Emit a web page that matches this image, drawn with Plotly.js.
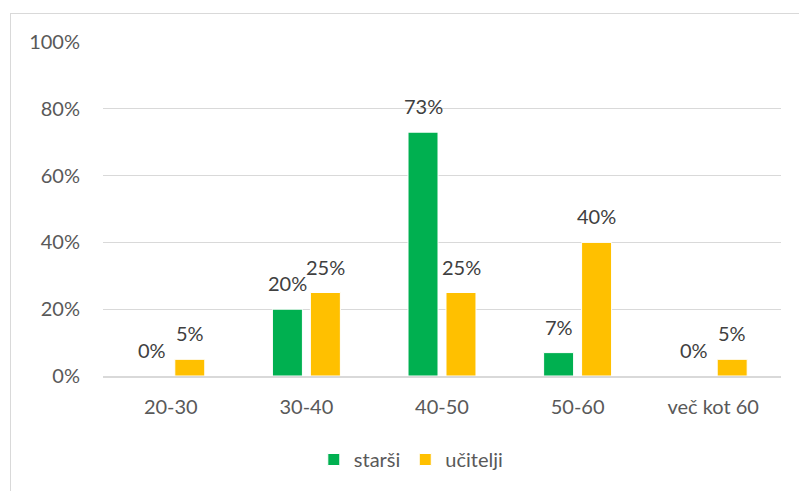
<!DOCTYPE html>
<html>
<head>
<meta charset="utf-8">
<script src="https://cdn.plot.ly/plotly-3.0.1.min.js"></script>
<style>
html,body{margin:0;padding:0;background:#fff;}
#wrap{position:relative;width:799px;height:491px;overflow:hidden;}
#chart{position:absolute;left:0;top:0;width:799px;height:491px;}
#frame{position:absolute;left:10px;top:13px;width:800px;height:490px;border:1px solid #d9d9d9;box-sizing:border-box;pointer-events:none;}
</style>
</head>
<body>
<div id="wrap"><div id="chart"></div><div id="frame"></div></div>
<script>
const categories = ["20-30", "30-40", "40-50", "50-60", "več kot 60"];
const starsi = [0, 0.20, 0.73, 0.07, 0];
const ucitelji = [0.05, 0.25, 0.25, 0.40, 0.05];
const seriesNames = ["starši", "učitelji"];
const yTickVals = [0, 0.2, 0.4, 0.6, 0.8, 1.0];
const yTickText = ["0%", "20%", "40%", "60%", "80%", "100%"];

const font = "Lato, 'Open Sans', sans-serif";
function pct(v){ return Math.round(v*100) + "%"; }

const traces = [
  {type:"bar", name:seriesNames[0], x:categories, y:starsi,
   marker:{color:"#00B050", line:{color:"#ffffff", width:1}}, hoverinfo:"none"},
  {type:"bar", name:seriesNames[1], x:categories, y:ucitelji,
   marker:{color:"#FFC000", line:{color:"#ffffff", width:1}}, hoverinfo:"none"}
];

// data labels, placed above each bar through the axes
const bargap = 0.44, bargroupgap = 0.21;
const labelShift = 19;   // px offset of each bar within its group
const annotations = [];
[starsi, ucitelji].forEach((series, si) => {
  series.forEach((v, i) => {
    annotations.push({
      x: categories[i], y: v, xref:"x", yref:"y",
      text: pct(v), showarrow:false, yanchor:"bottom",
      xshift: si === 0 ? -labelShift : labelShift, yshift: 12,
      font:{family:font, size:20, color:"#404040"}
    });
  });
});

const layout = {
  width:799, height:491,
  margin:{l:103, r:18, t:42, b:115},
  paper_bgcolor:"#ffffff", plot_bgcolor:"#ffffff",
  font:{family:font, size:20, color:"#595959"},
  barmode:"group", bargap:bargap, bargroupgap:bargroupgap,
  showlegend:true,
  legend:{orientation:"h", x:0.454, xanchor:"center", y:-0.25, yanchor:"middle",
          font:{family:font, size:20, color:"#595959"}, itemwidth:30, traceorder:"normal"},
  annotations: annotations,
  xaxis:{type:"category", showgrid:false, zeroline:false, showline:true,
         linecolor:"#d9d9d9", linewidth:2, ticks:"", ticklabelstandoff:12,
         tickfont:{family:font, size:20, color:"#595959"}, fixedrange:true},
  yaxis:{range:[0,1.0], tickvals:yTickVals, ticktext:yTickText, showgrid:true,
         gridcolor:"#d9d9d9", gridwidth:1, zeroline:false, showline:false, ticks:"",
         ticklabelstandoff:22, tickfont:{family:font, size:20, color:"#595959"}, fixedrange:true}
};

Plotly.newPlot("chart", traces, layout, {displayModeBar:false, staticPlot:true});
</script>
</body>
</html>
